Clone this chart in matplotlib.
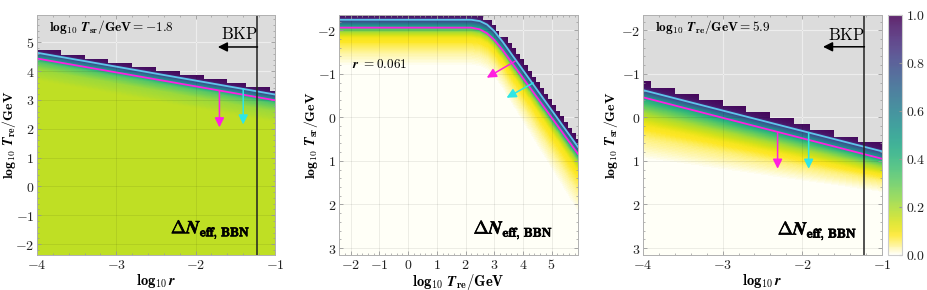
import numpy as np
import matplotlib
matplotlib.use('Agg')
import matplotlib.pyplot as plt
import matplotlib as mpl
import matplotlib.patheffects as pe
from matplotlib.colors import ListedColormap
from matplotlib.ticker import AutoMinorLocator, FuncFormatter

mpl.rcParams['mathtext.fontset'] = 'cm'
mpl.rcParams['font.family'] = 'serif'
mpl.rcParams['font.serif'] = ['DejaVu Serif']
mpl.rcParams['font.size'] = 9

# ---- panel 1: log10 r vs log10 T_re, T_sr fixed ----
p1_xlim = (-4.0, -1.0)
p1_ylim = (-2.38, 5.95)
p1_line_x = [-4.0, -1.0]
p1_cyan_y = [4.64, 3.19]
p1_magenta_y = [4.44, 2.99]
p1_edge_y = [4.77, 3.34]
p1_depth = [-0.3, -0.05, 0.0, 0.1, 0.2, 0.35, 0.6, 1.0, 20.0]
p1_level = [1.0, 0.95, 0.88, 0.7, 0.48, 0.32, 0.22, 0.17, 0.17]
p1_cell = (0.06, 0.14)

# ---- panel 2: log10 T_re vs log10 T_sr, r fixed ----
p2_xlim = (-2.41, 5.92)
p2_ylim = (3.16, -2.35)
p2_line_x = [-2.41, 2.2, 2.5, 2.75, 3.0, 3.3, 5.92]
p2_cyan_y = [-2.24, -2.24, -2.21, -2.13, -1.98, -1.73, 0.68]
p2_magenta_y = [-2.06, -2.06, -2.02, -1.93, -1.78, -1.54, 0.84]
p2_edge_y = [-2.37, -2.37, -2.34, -2.26, -2.11, -1.86, 0.55]
p2_depth = [-0.3, -0.05, 0.0, 0.09, 0.18, 0.3, 0.42, 0.58, 0.78, 1.08, 20.0]
p2_level = [1.0, 0.95, 0.88, 0.68, 0.45, 0.2, 0.1, 0.07, 0.035, 0.0, 0.0]
p2_width_x = [-2.41, 3.0, 5.92]
p2_width = [1.0, 1.0, 1.5]
p2_cell = (0.14, 0.13)

# ---- panel 3: log10 r vs log10 T_sr, T_re fixed ----
p3_xlim = (-4.0, -1.0)
p3_ylim = (3.16, -2.35)
p3_line_x = [-4.0, -1.0]
p3_cyan_y = [-0.625, 0.78]
p3_magenta_y = [-0.46, 0.95]
p3_edge_y = [-0.77, 0.64]
p3_depth = [-0.3, -0.05, 0.0, 0.08, 0.17, 0.35, 0.55, 0.8, 1.1, 1.6, 20.0]
p3_level = [1.0, 0.95, 0.88, 0.7, 0.48, 0.33, 0.2, 0.1, 0.05, 0.0, 0.0]
p3_width_x = [-4.0, -1.0]
p3_width = [1.0, 0.55]
p3_cell = (0.1, 0.14)

bkp_r = -1.22
cbar_ticks = [0.0, 0.2, 0.4, 0.6, 0.8, 1.0]

# colormap: white -> yellow -> reversed viridis
vir = plt.get_cmap('viridis')
n = 256
cols = []
for i in range(n):
    v = i / (n - 1)
    if v < 0.08:
        t = v / 0.08
        c = np.array(vir(1.0)[:3])
        cols.append(tuple((1 - t) * np.array([1.0, 1.0, 0.97]) + t * c) + (1.0,))
    else:
        cols.append(vir(1 - (v - 0.08) / 0.92))
cmap = ListedColormap(cols)
cmap.set_bad((0, 0, 0, 0))
cmap_bar = ListedColormap([c[:3] + (0.85,) for c in cols])

CYAN_LINE = '#5ec6ea'
CYAN_ARR = '#2ee6e6'
MAGENTA = '#ff1fe0'
GRAY_BG = '#dcdcdc'

tick_fmt = FuncFormatter(lambda v, p: '$%g$' % v)
bold_fx = [pe.withStroke(linewidth=0.5, foreground='black')]


def make_field(xlim, ylim, line_x, cyan_y, edge_y, depth, level, flip, cell,
               wx=None, ww=None, d0=0.18):
    xs = np.linspace(xlim[0], xlim[1], 700)
    y_lo, y_hi = min(ylim), max(ylim)
    ys = np.linspace(y_lo, y_hi, 700)
    X, Y = np.meshgrid(xs, ys)
    base = np.interp(X, line_x, cyan_y)
    d = (Y - base) if flip else (base - Y)
    if wx is not None:
        w = np.interp(X, wx, ww)
        d = np.where(d > d0, d0 + (d - d0) / w, d)
    Z = np.interp(d, depth, level)
    # coarse cells for the staircase edge
    dx, dy = cell
    sgn = 1 if flip else -1
    y0 = y_lo if flip else y_hi
    xc = xlim[0] + (np.floor((X - xlim[0]) / dx) + 0.5) * dx
    yc = y0 + (np.floor((Y - y0) / dy * sgn) + 0.5) * dy * sgn
    e = np.interp(xc, line_x, edge_y)
    valid = (yc > e) if flip else (yc < e)
    return np.ma.masked_where(~valid, Z), (xlim[0], xlim[1], y_lo, y_hi)


def style(ax, xlim, ylim, xt, yt):
    ax.set_facecolor(GRAY_BG)
    ax.set_xlim(xlim)
    ax.set_ylim(ylim)
    ax.set_xticks(xt)
    ax.set_yticks(yt)
    ax.xaxis.set_major_formatter(tick_fmt)
    ax.yaxis.set_major_formatter(tick_fmt)
    # white lines under the field, faint dark lines over it
    for v in xt:
        ax.axvline(v, color='white', lw=0.8, zorder=0.2)
    for v in yt:
        ax.axhline(v, color='white', lw=0.8, zorder=0.2)
    ax.grid(True, color='black', alpha=0.07, lw=0.7)
    ax.xaxis.set_minor_locator(AutoMinorLocator(5))
    ax.yaxis.set_minor_locator(AutoMinorLocator(5))
    ax.tick_params(which='both', direction='in', top=True, right=True,
                   colors='#999999', labelcolor='#222222', labelsize=10, pad=2)
    ax.tick_params(which='major', length=3, width=0.6)
    ax.tick_params(which='minor', length=1.6, width=0.5)
    for s in ax.spines.values():
        s.set_color('#b0b0b0')
        s.set_linewidth(0.7)


def arrow(ax, start, end, color):
    ax.annotate('', xy=end, xytext=start,
                arrowprops=dict(arrowstyle='-|>', color=color, lw=1.1,
                                mutation_scale=14, shrinkA=0, shrinkB=0))


fig = plt.figure(figsize=(9.27, 2.9), dpi=100)
ax1 = fig.add_axes([0.0399, 0.1207, 0.2567, 0.8276])
ax2 = fig.add_axes([0.3657, 0.1207, 0.2578, 0.8276])
ax3 = fig.add_axes([0.6936, 0.1207, 0.2578, 0.8276])
cax = fig.add_axes([0.958, 0.1207, 0.0151, 0.8276])

lab_r = r'$\mathbf{log_{10}}\,\mathbfit{r}$'
lab_re = r'$\mathbf{log_{10}}\ \mathbfit{T}_{\mathbf{re}}\mathbf{/GeV}$'
lab_sr = r'$\mathbf{log_{10}}\ \mathbfit{T}_{\mathbf{sr}}\mathbf{/GeV}$'
lab_dn = r'$\Delta\mathbfit{N}_{\mathbf{eff,\,BBN}}$'

# panel 1
Z, ext = make_field(p1_xlim, p1_ylim, p1_line_x, p1_cyan_y, p1_edge_y,
                    p1_depth, p1_level, False, p1_cell)
ax1.imshow(Z, origin='lower', extent=ext, aspect='auto', cmap=cmap,
           vmin=0, vmax=1, interpolation='nearest', zorder=0.5)
style(ax1, p1_xlim, p1_ylim, [-4, -3, -2, -1], [-2, -1, 0, 1, 2, 3, 4, 5])
ax1.plot(p1_line_x, p1_cyan_y, color=CYAN_LINE, lw=1.3)
ax1.plot(p1_line_x, p1_magenta_y, color=MAGENTA, lw=1.3)
arrow(ax1, (-1.70, np.interp(-1.70, p1_line_x, p1_magenta_y)), (-1.70, 2.05), MAGENTA)
arrow(ax1, (-1.40, np.interp(-1.40, p1_line_x, p1_cyan_y)), (-1.40, 2.15), CYAN_ARR)
ax1.axvline(bkp_r, color='#222222', lw=1.1)
arrow(ax1, (bkp_r, 4.84), (-1.72, 4.84), 'black')
ax1.text(-1.44, 5.28, r'$\mathrm{BKP}$', fontsize=12, ha='center', va='center')
ax1.text(-3.85, 5.52, r'$\mathbf{log_{10}}\ \mathbfit{T}_{\mathbf{sr}}\mathbf{/GeV = -1.8}$',
         fontsize=9.5, va='center')
ax1.text(-1.31, -1.52, lab_dn, fontsize=13, ha='right', va='center', path_effects=bold_fx)
ax1.set_xlabel(lab_r, fontsize=10.5, labelpad=0)
ax1.set_ylabel(lab_re, fontsize=10)
ax1.yaxis.set_label_coords(-0.078, 0.5)

# panel 2
Z, ext = make_field(p2_xlim, p2_ylim, p2_line_x, p2_cyan_y, p2_edge_y,
                    p2_depth, p2_level, True, p2_cell, p2_width_x, p2_width)
ax2.imshow(Z, origin='lower', extent=ext, aspect='auto', cmap=cmap,
           vmin=0, vmax=1, interpolation='nearest', zorder=0.5)
style(ax2, p2_xlim, p2_ylim, [-2, -1, 0, 1, 2, 3, 4, 5], [-2, -1, 0, 1, 2, 3])
ax2.plot(p2_line_x, p2_cyan_y, color=CYAN_LINE, lw=1.3)
ax2.plot(p2_line_x, p2_magenta_y, color=MAGENTA, lw=1.3)
arrow(ax2, (3.73, -1.29), (2.74, -0.91), MAGENTA)
arrow(ax2, (4.36, -0.79), (3.43, -0.45), CYAN_ARR)
ax2.text(-1.97, -1.22, r'$\mathbfit{r}\ \mathbf{= 0.061}$', fontsize=9.5, va='center')
ax2.text(5.05, 2.6, lab_dn, fontsize=13, ha='right', va='center', path_effects=bold_fx)
ax2.set_xlabel(lab_re, fontsize=10.5, labelpad=0)
ax2.set_ylabel(lab_sr, fontsize=10)
ax2.yaxis.set_label_coords(-0.078, 0.5)

# panel 3
Z, ext = make_field(p3_xlim, p3_ylim, p3_line_x, p3_cyan_y, p3_edge_y,
                    p3_depth, p3_level, True, p3_cell, p3_width_x, p3_width)
ax3.imshow(Z, origin='lower', extent=ext, aspect='auto', cmap=cmap,
           vmin=0, vmax=1, interpolation='nearest', zorder=0.5)
style(ax3, p3_xlim, p3_ylim, [-4, -3, -2, -1], [-2, -1, 0, 1, 2, 3])
ax3.plot(p3_line_x, p3_cyan_y, color=CYAN_LINE, lw=1.3)
ax3.plot(p3_line_x, p3_magenta_y, color=MAGENTA, lw=1.3)
arrow(ax3, (-2.31, np.interp(-2.31, p3_line_x, p3_magenta_y)), (-2.31, 1.18), MAGENTA)
arrow(ax3, (-1.92, np.interp(-1.92, p3_line_x, p3_cyan_y)), (-1.92, 1.18), CYAN_ARR)
ax3.axvline(bkp_r, color='#222222', lw=1.1)
arrow(ax3, (bkp_r, -1.62), (-1.74, -1.62), 'black')
ax3.text(-1.45, -1.88, r'$\mathrm{BKP}$', fontsize=12, ha='center', va='center')
ax3.text(-3.85, -2.07, r'$\mathbf{log_{10}}\ \mathbfit{T}_{\mathbf{re}}\mathbf{/GeV = 5.9}$',
         fontsize=9.5, va='center')
ax3.text(-1.31, 2.62, lab_dn, fontsize=13, ha='right', va='center', path_effects=bold_fx)
ax3.set_xlabel(lab_r, fontsize=10.5, labelpad=0)
ax3.set_ylabel(lab_sr, fontsize=10)
ax3.yaxis.set_label_coords(-0.095, 0.5)

sm = mpl.cm.ScalarMappable(norm=mpl.colors.Normalize(0, 1), cmap=cmap_bar)
cb = fig.colorbar(sm, cax=cax, ticks=cbar_ticks)
cb.ax.tick_params(direction='in', length=2, colors='#999999', labelcolor='#222222',
                  labelsize=10, pad=3)
cb.outline.set_edgecolor('#cccccc')
cb.ax.yaxis.set_major_formatter(FuncFormatter(lambda v, p: '$%.1f$' % v))

fig.savefig('out.png', dpi=100)
